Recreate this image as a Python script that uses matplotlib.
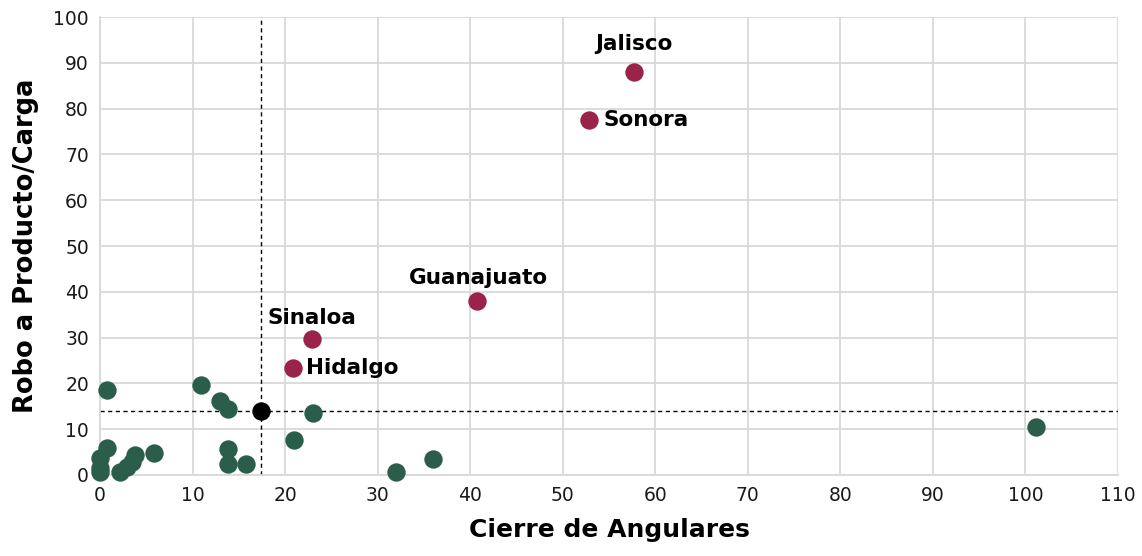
import matplotlib
matplotlib.use("Agg")
import matplotlib.pyplot as plt

plt.rcParams['font.family'] = ['DejaVu Sans']

# Highlighted states
hl_names = ["Jalisco", "Sonora", "Guanajuato", "Sinaloa", "Hidalgo"]
hl_x = [57.7, 52.8, 40.7, 22.9, 20.9]
hl_y = [88.0, 77.5, 38.0, 29.7, 23.4]

# Other states
oth_x = [0.8, 10.9, 13.0, 13.8, 23.0, 101.1, 21.0, 13.8, 13.8, 15.8, 32.0, 36.0,
         5.8, 3.8, 3.4, 2.9, 2.2, 0.7, 0.0, 0.0, 0.0]
oth_y = [18.6, 19.7, 16.2, 14.4, 13.5, 10.5, 7.6, 5.7, 2.4, 2.4, 0.7, 3.5,
         4.7, 4.4, 2.9, 1.8, 0.7, 5.8, 3.8, 1.5, 0.7]

# National average
avg_x = 17.4
avg_y = 14.0

x_ticks = list(range(0, 111, 10))
y_ticks = list(range(0, 101, 10))

green = "#2a5e4b"
maroon = "#9b2248"

fig = plt.figure(figsize=(11.42, 5.56), dpi=100)
ax = fig.add_axes([0.0876, 0.1457, 0.8914, 0.8237])

ax.set_xlim(0, 110)
ax.set_ylim(0, 100)
ax.set_xticks(x_ticks)
ax.set_yticks(y_ticks)
ax.grid(True, color="#d9d9d9", linewidth=1.3)
ax.set_axisbelow(True)
for s in ["top", "right"]:
    ax.spines[s].set_visible(False)
for s in ["left", "bottom"]:
    ax.spines[s].set_color("#d9d9d9")
    ax.spines[s].set_linewidth(1.3)
ax.tick_params(length=0, labelsize=13.5, pad=8, colors="#1a1a1a")

ax.axvline(avg_x, color="black", linestyle=(0, (3, 2.5)), linewidth=1, zorder=2)
ax.axhline(avg_y, color="black", linestyle=(0, (3, 2.5)), linewidth=1, zorder=2)

ms = 175
ax.scatter(oth_x, oth_y, s=ms, color=green, zorder=3, clip_on=False, linewidths=0)
ax.scatter(hl_x, hl_y, s=ms, color=maroon, zorder=3, clip_on=False, linewidths=0)
ax.scatter([avg_x], [avg_y], s=ms, color="black", zorder=4, clip_on=False, linewidths=0)

label_pos = {
    "Jalisco": ((0, 13), "center", "bottom"),
    "Sonora": ((11, 0), "left", "center"),
    "Guanajuato": ((1, 9), "center", "bottom"),
    "Sinaloa": ((0, 8), "center", "bottom"),
    "Hidalgo": ((9, 0), "left", "center"),
}
for n, x, y in zip(hl_names, hl_x, hl_y):
    off, ha, va = label_pos[n]
    ax.annotate(n, (x, y), xytext=off, textcoords="offset points",
                ha=ha, va=va, fontsize=15.5, fontweight="bold", color="black")

ax.set_xlabel("Cierre de Angulares", fontsize=18, fontweight="bold", labelpad=9)
ax.set_ylabel("Robo a Producto/Carga", fontsize=18.5, fontweight="bold", labelpad=10)

fig.savefig("out.png", dpi=100)
